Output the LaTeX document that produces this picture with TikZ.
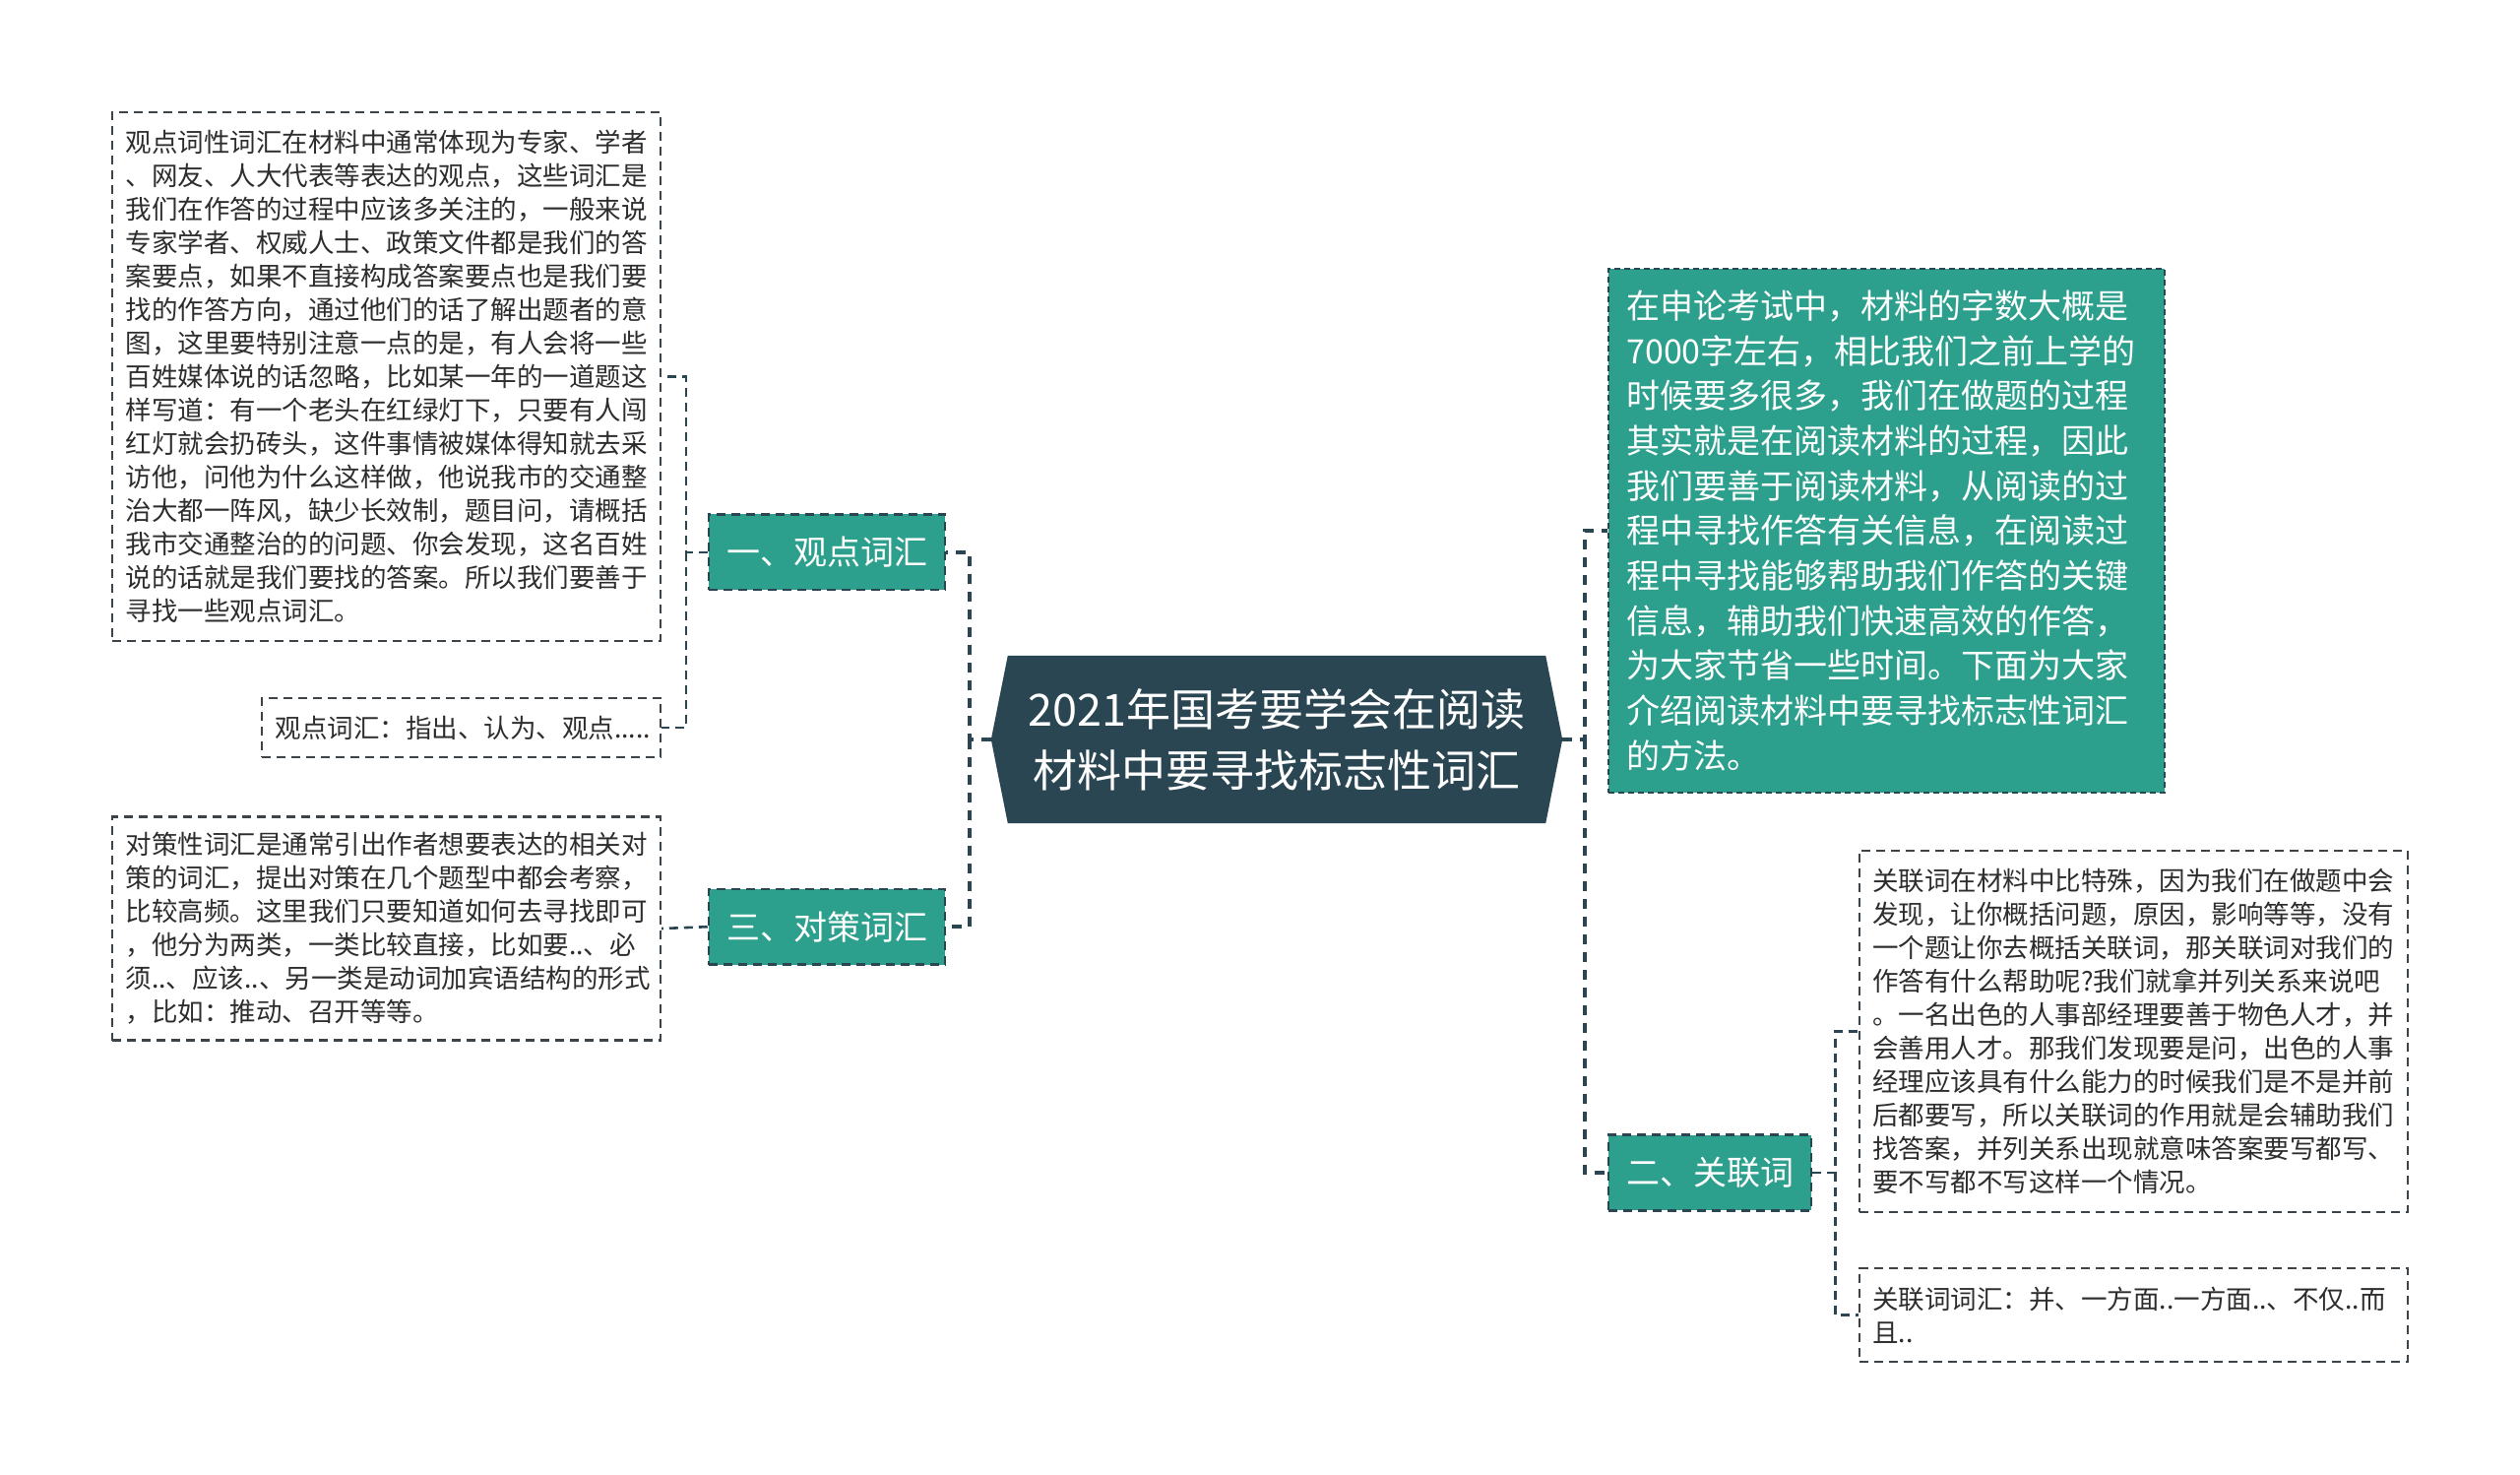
\documentclass[tikz,border=0pt]{standalone}
\usepackage{fontspec}
\setmainfont{Noto Sans CJK SC}
\usetikzlibrary{backgrounds}
\definecolor{tealc}{RGB}{44,159,141}
\definecolor{darkc}{RGB}{42,70,82}
\definecolor{textc}{RGB}{45,45,45}
\definecolor{boxc}{RGB}{60,68,74}
\tikzset{
  txtbox/.style={draw=boxc, line width=2.2pt, dash pattern=on 9pt off 6pt, fill=white, text=textc,
    font=\fontsize{26.5}{34}\selectfont, align=left, inner xsep=13.5pt, inner ysep=0pt},
  branch/.style={draw=darkc, line width=2.5pt, dash pattern=on 9pt off 6pt, fill=tealc, text=white,
    font=\fontsize{34}{44}\selectfont, inner sep=0pt},
  connA/.style={draw=darkc, line width=4pt, dash pattern=on 10pt off 8pt},
  connB/.style={draw=darkc, line width=2.6pt, dash pattern=on 9pt off 6pt},
}
\begin{document}
\begin{tikzpicture}[x=1pt,y=-1pt]
\useasboundingbox (0,0) rectangle (2560,1497);
% nodes
\node[txtbox, minimum width=557pt, minimum height=537pt, text width=530pt] (lb1) at (392.6,382.7) {观点词性词汇在材料中通常体现为专家、学者\\、网友、人大代表等表达的观点，这些词汇是\\我们在作答的过程中应该多关注的，一般来说\\专家学者、权威人士、政策文件都是我们的答\\案要点，如果不直接构成答案要点也是我们要\\找的作答方向，通过他们的话了解出题者的意\\图，这里要特别注意一点的是，有人会将一些\\百姓媒体说的话忽略，比如某一年的一道题这\\样写道：有一个老头在红绿灯下，只要有人闯\\红灯就会扔砖头，这件事情被媒体得知就去采\\访他，问他为什么这样做，他说我市的交通整\\治大都一阵风，缺少长效制，题目问，请概括\\我市交通整治的的问题、你会发现，这名百姓\\说的话就是我们要找的答案。所以我们要善于\\寻找一些观点词汇。};
\node[txtbox, minimum width=405pt, minimum height=60.4pt, text width=378pt] (lb2) at (468.6,739) {观点词汇：指出、认为、观点.....};
\node[txtbox, minimum width=557pt, minimum height=227pt, text width=530pt] (lb3) at (392.6,943) {对策性词汇是通常引出作者想要表达的相关对\\策的词汇，提出对策在几个题型中都会考察，\\比较高频。这里我们只要知道如何去寻找即可\\，他分为两类，一类比较直接，比如要..、必\\须..、应该..、另一类是动词加宾语结构的形式\\，比如：推动、召开等等。};
\node[branch, minimum width=240pt, minimum height=76.7pt] (b1) at (840,560.8) {一、观点词汇};
\node[branch, minimum width=240pt, minimum height=76.7pt] (b3) at (840,941.2) {三、对策词汇};
\node[minimum width=580pt, minimum height=170pt, inner sep=0pt, text=white, align=center,
  font=\fontsize{45}{62}\selectfont] (c) at (1297,751) {2021年国考要学会在阅读\\材料中要寻找标志性词汇};
\node[draw=darkc, line width=1.8pt, dash pattern=on 6pt off 4pt, fill=tealc, text=white,
  font=\fontsize{34}{45.7}\selectfont, align=left, inner xsep=18pt, inner ysep=0pt,
  minimum width=565pt, minimum height=532pt, text width=529pt] (rt) at (1916.8,538.8) {在申论考试中，材料的字数大概是\\7000字左右，相比我们之前上学的\\时候要多很多，我们在做题的过程\\其实就是在阅读材料的过程，因此\\我们要善于阅读材料，从阅读的过\\程中寻找作答有关信息，在阅读过\\程中寻找能够帮助我们作答的关键\\信息，辅助我们快速高效的作答，\\为大家节省一些时间。下面为大家\\介绍阅读材料中要寻找标志性词汇\\的方法。};
\node[branch, minimum width=205.7pt, minimum height=76.7pt] (b2) at (1737,1191) {二、关联词};
\node[txtbox, minimum width=556.7pt, minimum height=367.4pt, text width=530pt] (rb1) at (2167.4,1047.4) {关联词在材料中比特殊，因为我们在做题中会\\发现，让你概括问题，原因，影响等等，没有\\一个题让你去概括关联词，那关联词对我们的\\作答有什么帮助呢?我们就拿并列关系来说吧\\。一名出色的人事部经理要善于物色人才，并\\会善用人才。那我们发现要是问，出色的人事\\经理应该具有什么能力的时候我们是不是并前\\后都要写，所以关联词的作用就是会辅助我们\\找答案，并列关系出现就意味答案要写都写、\\要不写都不写这样一个情况。};
\node[txtbox, minimum width=556.7pt, minimum height=94.7pt, text width=530pt] (rb2) at (2167.4,1335.5) {关联词词汇：并、一方面..一方面..、不仅..而\\且..};
% background
\begin{scope}[on background layer]
\fill[white] (0,0) rectangle (2560,1497);
\fill[darkc] (c.west) -- ([xshift=17pt]c.north west) -- ([xshift=-17pt]c.north east) -- (c.east)
  -- ([xshift=-17pt]c.south east) -- ([xshift=17pt]c.south west) -- cycle;
\end{scope}
% connectors
\coordinate (jl) at (984.5,751);
\coordinate (j1) at (697,560.8);
\coordinate (jr) at (1609.8,751);
\coordinate (j2) at (1864.5,1191);
\draw[connA] (c.west) -- (jl) |- (b1.east);
\draw[connA] (jl) |- (b3.east);
\draw[connB] (b1.west) -- (j1) |- (lb1.east);
\draw[connB] (j1) |- (lb2.east);
\draw[connB] (b3.west) -- (lb3.east);
\draw[connA] (c.east) -- (jr) |- (rt.west);
\draw[connA] (jr) |- (b2.west);
\draw[connB] (b2.east) -- (j2) |- (rb1.west);
\draw[connB] (j2) |- (rb2.west);
\end{tikzpicture}
\end{document}
